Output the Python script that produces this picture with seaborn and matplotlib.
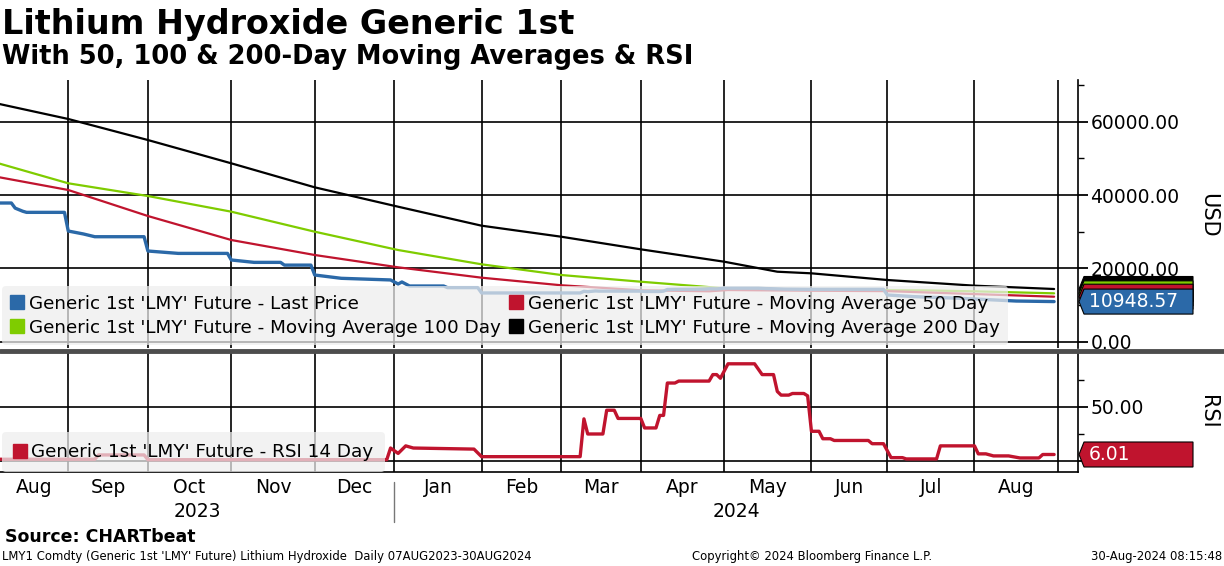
import numpy as np
import pandas as pd
import matplotlib
matplotlib.use("Agg")
import matplotlib.pyplot as plt
from matplotlib.lines import Line2D
from matplotlib.patches import Polygon
from matplotlib.transforms import IdentityTransform
import seaborn as sns

sns.set_theme(style="white")
plt.rcParams['font.family'] = ['DejaVu Sans']
plt.rcParams.update({"text.color": "black", "axes.labelcolor": "black",
                     "xtick.color": "black", "ytick.color": "black"})

START = "2023-08-07"

price_dates = ["2023-08-07", "2023-08-11", "2023-08-14", "2023-08-16", "2023-08-17", "2023-08-31",
               "2023-09-01", "2023-09-07", "2023-09-12", "2023-09-29", "2023-10-02", "2023-10-12",
               "2023-10-31", "2023-11-01", "2023-11-09", "2023-11-20", "2023-11-21", "2023-11-30",
               "2023-12-01", "2023-12-12", "2023-12-29", "2024-01-02", "2024-01-03", "2024-01-05",
               "2024-01-18", "2024-01-19", "2024-01-31", "2024-02-01", "2024-03-08", "2024-03-11",
               "2024-03-12", "2024-03-14", "2024-03-15", "2024-04-01", "2024-04-02", "2024-04-08",
               "2024-04-09", "2024-04-10", "2024-04-12", "2024-04-24", "2024-04-25", "2024-04-29",
               "2024-05-01", "2024-05-14", "2024-05-16", "2024-05-20", "2024-05-23", "2024-05-31",
               "2024-06-03", "2024-06-28", "2024-07-01", "2024-07-10", "2024-07-26", "2024-08-08",
               "2024-08-16", "2024-08-30"]
price_vals = [37850, 37850, 36450, 35600, 35300, 35300,
              30200, 29400, 28650, 28650, 24750, 24100,
              24100, 22300, 21650, 21650, 20900, 20900,
              18200, 17300, 16850, 15750, 16300, 15200,
              15200, 14750, 14750, 13300, 13300, 13750,
              13650, 13850, 13800, 13800, 13700, 13700,
              13800, 14250, 14300, 14350, 14450, 14400,
              14600, 14600, 14500, 14450, 14350, 14300,
              14300, 14300, 12750, 12300, 11850, 11400,
              11100, 10948.57]

ma50_dates = ["2023-08-07", "2023-09-01", "2023-10-02", "2023-11-01", "2023-12-01", "2024-01-02",
              "2024-02-01", "2024-03-01", "2024-04-01", "2024-04-25", "2024-05-02", "2024-06-03",
              "2024-07-01", "2024-08-01", "2024-08-30"]
ma50_vals = [45030, 41400, 34300, 27750, 23660, 20300,
             17470, 15400, 14030, 13750, 14100, 13900,
             13800, 13000, 12280]

ma100_dates = ["2023-08-07", "2023-09-01", "2023-10-02", "2023-11-01", "2023-12-01", "2024-01-02",
               "2024-02-01", "2024-03-01", "2024-04-01", "2024-05-01", "2024-05-21", "2024-06-14",
               "2024-07-15", "2024-08-01", "2024-08-30"]
ma100_vals = [48860, 43230, 39760, 35480, 30020, 25020,
              21120, 18200, 16370, 14570, 14190, 14100,
              14000, 13750, 13200]

ma200_dates = ["2023-08-07", "2023-09-01", "2023-10-02", "2023-11-01", "2023-12-01", "2024-01-02",
               "2024-02-01", "2024-03-01", "2024-04-01", "2024-05-01", "2024-05-21", "2024-06-03",
               "2024-07-01", "2024-08-01", "2024-08-30"]
ma200_vals = [65060, 60780, 55040, 48680, 42130, 36840,
              31660, 28650, 25210, 21830, 19100, 18660,
              16840, 15290, 14380]

rsi_dates = ["2023-08-07", "2023-09-12", "2023-09-13", "2023-09-29", "2023-10-02", "2023-12-28",
             "2023-12-29", "2024-01-02", "2024-01-04", "2024-01-08", "2024-01-30", "2024-02-01",
             "2024-03-08", "2024-03-11", "2024-03-12", "2024-03-18", "2024-03-19", "2024-03-21",
             "2024-03-22", "2024-04-01", "2024-04-02", "2024-04-05", "2024-04-08", "2024-04-09",
             "2024-04-10", "2024-04-12", "2024-04-15", "2024-04-25", "2024-04-26", "2024-04-29",
             "2024-04-30", "2024-05-02", "2024-05-13", "2024-05-15", "2024-05-20", "2024-05-21",
             "2024-05-22", "2024-05-24", "2024-05-27", "2024-05-30", "2024-05-31", "2024-06-03",
             "2024-06-05", "2024-06-06", "2024-06-10", "2024-06-11", "2024-06-24", "2024-06-25",
             "2024-06-28", "2024-07-02", "2024-07-05", "2024-07-08", "2024-07-18", "2024-07-19",
             "2024-08-01", "2024-08-02", "2024-08-06", "2024-08-08", "2024-08-14", "2024-08-19",
             "2024-08-26", "2024-08-27", "2024-08-30"]
rsi_vals = [1.6, 1.6, 5.6, 5.6, 1.2, 1.2,
            12, 7, 14, 12, 11, 4,
            4, 39, 25, 25, 47, 47,
            39.4, 39.4, 30.6, 30.6, 42.2, 42.2,
            72.2, 72.2, 74, 74, 80, 80,
            76.6, 90, 90, 80, 80, 64.4,
            61, 61, 62.5, 62.5, 60.3, 27.5,
            27.5, 20.6, 20.6, 19, 19, 16,
            16, 3.1, 3.1, 1.9, 1.9, 14,
            14, 6.6, 6.6, 4.7, 4.7, 2.8,
            2.8, 6.01, 6.01]

month_starts = ["2023-08-08", "2023-09-01", "2023-10-01", "2023-11-01", "2023-12-01", "2024-01-01",
                "2024-02-01", "2024-03-01", "2024-04-01", "2024-05-01", "2024-06-01", "2024-07-01",
                "2024-08-01", "2024-09-01"]
month_labels = ["Aug", "Sep", "Oct", "Nov", "Dec", "Jan", "Feb", "Mar", "Apr", "May", "Jun", "Jul", "Aug"]
year_labels = ["2023", "2024"]

legend_names = ["Generic 1st 'LMY' Future - Last Price",
                "Generic 1st 'LMY' Future - Moving Average 50 Day",
                "Generic 1st 'LMY' Future - Moving Average 100 Day",
                "Generic 1st 'LMY' Future - Moving Average 200 Day"]
rsi_name = "Generic 1st 'LMY' Future - RSI 14 Day"

BLUE, RED, GREEN, BLACK = "#2b69a8", "#c0142e", "#7fcc00", "#000000"


def bpos(dates):
    return np.busday_count(START, np.array(dates, dtype="datetime64[D]"))


W, H = 1224, 566
fig = plt.figure(figsize=(W / 100, H / 100), dpi=100)
ax1 = fig.add_axes([0, 1 - 348 / H, 1078 / W, 268 / H])
ax2 = fig.add_axes([0, 1 - 472 / H, 1078 / W, 119 / H])

bounds = bpos(month_starts)
x0, x1 = 1, 285.3

series = [(ma200_dates, ma200_vals, BLACK, 1.6),
          (ma100_dates, ma100_vals, GREEN, 1.6),
          (ma50_dates, ma50_vals, RED, 1.6),
          (price_dates, price_vals, BLUE, 2.4)]
for d, v, c, lw in series:
    df = pd.DataFrame({"x": bpos(d), "y": v})
    sns.lineplot(data=df, x="x", y="y", ax=ax1, color=c, lw=lw, legend=False)

rdf = pd.DataFrame({"x": bpos(rsi_dates), "y": rsi_vals})
sns.lineplot(data=rdf, x="x", y="y", ax=ax2, color=RED, lw=2.4, legend=False)

ax1.set_ylim(-1720, 71420)
ax2.set_ylim(-10.2, 100)
for ax in (ax1, ax2):
    ax.set_xlim(x0, x1)
    ax.set_xlabel("")
    ax.set_ylabel("")
    ax.set_xticks(bounds[1:])
    ax.yaxis.tick_right()
    ax.grid(True, which="major", color="black", lw=1.2)
    for s in ("top", "left"):
        ax.spines[s].set_visible(False)
    ax.spines["right"].set_color("black")
    ax.spines["right"].set_linewidth(1.2)
    ax.tick_params(axis="y", which="major", direction="out", length=7, width=1.3,
                   labelsize=13.5, pad=2, colors="black", right=True)
    ax.tick_params(axis="y", which="minor", direction="out", length=4, width=1.0,
                   colors="black", right=True)

ax1.spines["bottom"].set_visible(False)
ax1.set_xticklabels([])
ax1.tick_params(axis="x", length=0)
ax1.set_yticks([0, 20000, 40000, 60000])
ax1.set_yticklabels([f"{t:.2f}" for t in [0, 20000, 40000, 60000]])
ax1.set_yticks([10000, 30000, 50000, 70000], minor=True)

# the 0.00 label sits under the RSI value tag in the original
ax2.set_yticks([0, 50])
ax2.set_yticklabels(["", "50.00"])
ax2.set_yticks([25, 75], minor=True)
ax2.spines["bottom"].set_color("black")
ax2.spines["bottom"].set_linewidth(1.2)
ax2.set_xticklabels([])
ax2.tick_params(axis="x", which="major", direction="out", length=4, width=1.2, colors="black")
edges = np.concatenate([[x0], bounds[1:-1], [bounds[-1]]])
mids = (edges[:-1] + edges[1:]) / 2
ax2.set_xticks(mids, minor=True)
ax2.set_xticklabels(month_labels, minor=True)
ax2.tick_params(axis="x", which="minor", length=0, labelsize=13.5, pad=4)
ax2.xaxis.grid(True, which="major", color="black", lw=1.2)
ax2.xaxis.grid(False, which="minor")

# year row
jan = bpos(["2024-01-01"])[0]
ytr = ax2.get_xaxis_transform()
ax2.text((x0 + jan) / 2, -0.33, year_labels[0], transform=ytr, ha="center", va="center", fontsize=13.5)
ax2.text((jan + x1) / 2, -0.33, year_labels[1], transform=ytr, ha="center", va="center", fontsize=13.5)
ax2.plot([jan, jan], [-0.08, -0.42], transform=ytr, color="#777777", lw=1, clip_on=False)

# legends
hs = [Line2D([], [], ls="none", marker="s", ms=10, color=c) for c in (BLUE, GREEN, RED, BLACK)]
labs = [legend_names[0], legend_names[2], legend_names[1], legend_names[3]]
ax1.legend(hs, labs, ncol=2, loc="lower left", bbox_to_anchor=(0.002, 0.012), fontsize=13.2,
           frameon=True, facecolor="#eeeeee", edgecolor="none", framealpha=0.72,
           handlelength=0.7, handletextpad=0.3, columnspacing=0.5, borderpad=0.45,
           labelspacing=0.32, borderaxespad=0, fancybox=True)
ax2.legend([Line2D([], [], ls="none", marker="s", ms=10, color=RED)], [rsi_name],
           loc="lower left", bbox_to_anchor=(0.002, 0.0), fontsize=13.2, frameon=True,
           facecolor="#eeeeee", edgecolor="none", framealpha=0.72, handlelength=0.7,
           handletextpad=0.3, borderpad=0.6, borderaxespad=0, fancybox=True)

# panel separator
fig.add_artist(Line2D([0, 1], [1 - 350.5 / H] * 2, transform=fig.transFigure,
                      color="#4d4d4d", lw=3.5))


def tag(ax, val, color, text=None):
    xr = ax.transAxes.transform((1, 0))[0]
    y = ax.transData.transform((x0, val))[1]
    h = 12.5
    pts = [(xr + 1, y), (xr + 6, y + h), (xr + 115, y + h), (xr + 115, y - h), (xr + 6, y - h)]
    fig.add_artist(Polygon(pts, closed=True, facecolor=color, edgecolor="black", lw=0.8,
                           transform=IdentityTransform(), zorder=5))
    if text:
        fig.text((xr + 11) / W, y / H, text, color="white", fontsize=13.5,
                 va="center", ha="left", zorder=6)


tag(ax1, ma200_vals[-1], BLACK)
tag(ax1, ma100_vals[-1], GREEN)
tag(ax1, ma50_vals[-1], RED)
tag(ax1, price_vals[-1], BLUE, f"{price_vals[-1]:.2f}")
tag(ax2, rsi_vals[-1], RED, f"{rsi_vals[-1]:.2f}")

fig.text(1208 / W, 1 - 215 / H, "USD", rotation=270, fontsize=15, ha="center", va="center")
fig.text(1208 / W, 1 - 412 / H, "RSI", rotation=270, fontsize=15, ha="center", va="center")

fig.text(2 / W, 1 - 34 / H, "Lithium Hydroxide Generic 1st", fontsize=24, weight="bold",
         ha="left", va="baseline")
fig.text(2 / W, 1 - 64 / H, "With 50, 100 & 200-Day Moving Averages & RSI", fontsize=18.5,
         weight="bold", ha="left", va="baseline")

fig.text(5 / W, 1 - 542 / H, "Source: CHARTbeat", fontsize=12.5, weight="bold", ha="left", va="baseline")
fig.text(2 / W, 1 - 560 / H, "LMY1 Comdty (Generic 1st 'LMY' Future) Lithium Hydroxide  Daily 07AUG2023-30AUG2024",
         fontsize=8.4, ha="left", va="baseline")
fig.text(812 / W, 1 - 560 / H, "Copyright\u00a9 2024 Bloomberg Finance L.P.", fontsize=8.4,
         ha="center", va="baseline")
fig.text(1222 / W, 1 - 560 / H, "30-Aug-2024 08:15:48", fontsize=8.4, ha="right", va="baseline")

fig.savefig("out.png", dpi=100)
